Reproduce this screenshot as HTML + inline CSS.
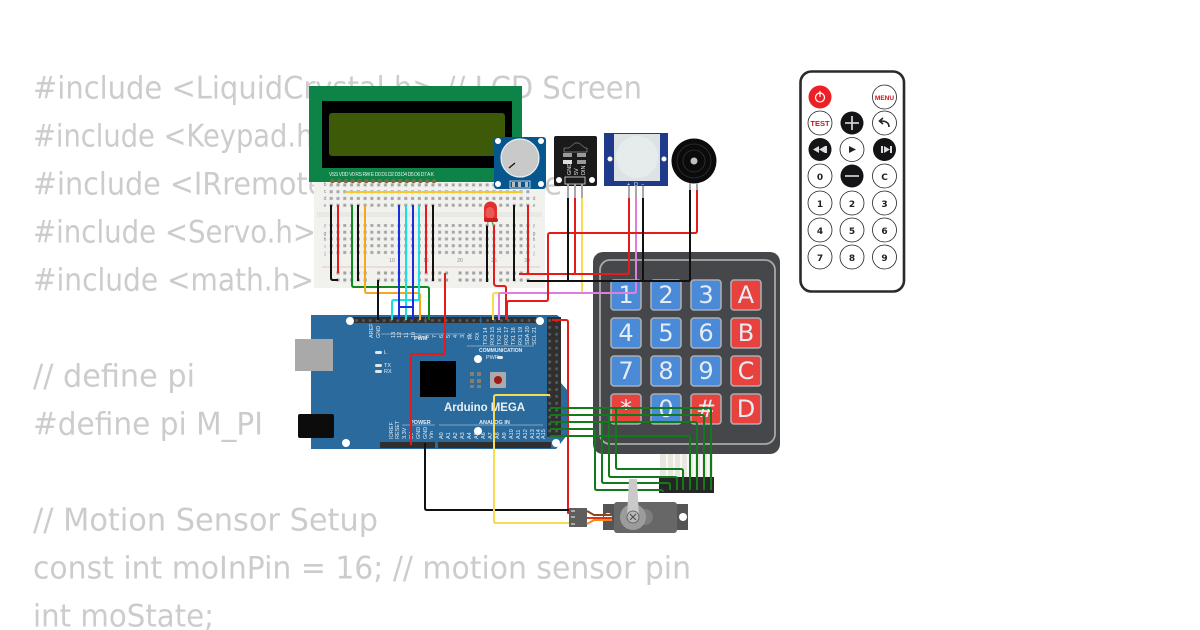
<!DOCTYPE html>
<html>
<head>
<meta charset="utf-8">
<style>
html,body{margin:0;padding:0;background:#fff;width:1200px;height:630px;overflow:hidden}
svg{display:block}
.code text{font-family:"DejaVu Sans",sans-serif;font-size:31px;fill:#ccc}
.w{fill:none;stroke-width:2;stroke-linejoin:round}
.lab{font-family:"Liberation Sans",sans-serif;fill:#e6eef4;font-size:5.5px}
.key{font-family:"DejaVu Sans",sans-serif;font-size:24px;fill:#e4ecf4;text-anchor:middle;font-weight:normal}
.rb{fill:#fff;stroke:#222;stroke-width:.8}
.rt{font-family:"DejaVu Sans",sans-serif;font-weight:bold;font-size:9px;text-anchor:middle;fill:#222}
.bbl{font-family:"Liberation Sans",sans-serif;font-size:5px;fill:#888;text-anchor:middle}
</style>
</head>
<body>
<svg width="1200" height="630" viewBox="0 0 1200 630" xmlns="http://www.w3.org/2000/svg">
<defs>
<pattern id="dots" x="328" width="6.78" height="6.75" patternUnits="userSpaceOnUse" y="175"><rect x="1.7" y="1.7" width="3" height="3" fill="#a6a6a6"/></pattern>
<pattern id="rail" x="328" y="271" width="40.7" height="7" patternUnits="userSpaceOnUse"><rect x="8.5" y="0.5" width="3" height="3" fill="#a0a0a0"/><rect x="15.3" y="0.5" width="3" height="3" fill="#a0a0a0"/><rect x="22.1" y="0.5" width="3" height="3" fill="#a0a0a0"/><rect x="28.9" y="0.5" width="3" height="3" fill="#a0a0a0"/><rect x="35.7" y="0.5" width="3" height="3" fill="#a0a0a0"/></pattern>
<pattern id="hdr" x="353" y="317" width="6.9" height="6.9" patternUnits="userSpaceOnUse"><rect width="6.9" height="6.9" fill="#2f2f2f"/><rect x="2.2" y="2.2" width="2.6" height="2.6" fill="#5c5c5c"/></pattern>
<pattern id="lcdp" x="329" y="177" width="6.77" height="8" patternUnits="userSpaceOnUse"><circle cx="3.4" cy="4" r="2.3" fill="#7d6b43"/></pattern>
</defs>

<g class="code">
<text x="33" y="98.500" textLength="609" lengthAdjust="spacingAndGlyphs">#include &lt;LiquidCrystal.h&gt; // LCD Screen</text>
<text x="33" y="146.500" textLength="440" lengthAdjust="spacingAndGlyphs">#include &lt;Keypad.h&gt; // Keypad</text>
<text x="33" y="194.500" textLength="529" lengthAdjust="spacingAndGlyphs">#include &lt;IRremote.h&gt; // IR Remote</text>
<text x="33" y="242.500" textLength="283" lengthAdjust="spacingAndGlyphs">#include &lt;Servo.h&gt;</text>
<text x="33" y="290.500" textLength="281" lengthAdjust="spacingAndGlyphs">#include &lt;math.h&gt;</text>
<text x="33" y="386.500" textLength="162" lengthAdjust="spacingAndGlyphs">// define pi</text>
<text x="33" y="434.500" textLength="230" lengthAdjust="spacingAndGlyphs">#define pi M_PI</text>
<text x="33" y="530.500" textLength="345" lengthAdjust="spacingAndGlyphs">// Motion Sensor Setup</text>
<text x="33" y="578.500" textLength="658" lengthAdjust="spacingAndGlyphs">const int moInPin = 16; // motion sensor pin</text>
<text x="33" y="626.500" textLength="181" lengthAdjust="spacingAndGlyphs">int moState;</text>
</g>

<!-- breadboard -->
<rect x="314" y="182" width="231" height="106" fill="#f1f1ee"/>
<rect x="317" y="212" width="225" height="5" fill="#e8e8e4"/>
<line x1="322" y1="267" x2="540" y2="267" stroke="#e5b9b6" stroke-width=".7"/>
<rect x="328" y="181" width="203" height="27" fill="url(#dots)"/>
<rect x="328" y="224" width="203" height="33" fill="url(#dots)"/>
<rect x="328" y="271" width="203" height="4" fill="url(#rail)"/>
<rect x="328" y="278" width="203" height="4" fill="url(#rail)"/>
<g class="bbl"><text x="392" y="262">10</text><text x="426" y="262">15</text><text x="460" y="262">20</text><text x="494" y="262">25</text><text x="527" y="262">30</text><text x="358" y="262">5</text>
<text x="325" y="186">b</text><text x="325" y="193">c</text><text x="325" y="200">d</text><text x="325" y="207">e</text><text x="534" y="200">d</text><text x="534" y="207">e</text><text x="325" y="228">f</text><text x="325" y="235">g</text><text x="325" y="241">h</text><text x="325" y="248">i</text><text x="325" y="255">j</text><text x="534" y="228">f</text><text x="534" y="235">g</text><text x="534" y="241">h</text><text x="534" y="248">i</text><text x="534" y="255">j</text></g>

<!-- LCD -->
<rect x="309" y="86" width="213" height="96" fill="#0d8347"/>
<rect x="322" y="101" width="190" height="67" fill="#000"/>
<rect x="329" y="113" width="176" height="43" rx="3" fill="#3c5a08"/>
<rect x="329" y="177" width="108" height="8" fill="url(#lcdp)"/>
<text x="329" y="176" font-family="Liberation Sans,sans-serif" font-size="5px" fill="#e8f2ec" textLength="105">VSS VDD V0 RS RW E D0 D1 D2 D3 D4 D5 D6 D7 A K</text>
<!-- Arduino -->
<path d="M311 315H557L561 318V383L568 391V434L556 449H311Z" fill="#2a6a9c"/>
<rect x="295" y="339" width="38" height="32" fill="#a9a9a9"/>
<rect x="298" y="414" width="36" height="24" rx="2" fill="#0c0c0c"/>
<rect x="353" y="317" width="72" height="6" fill="url(#hdr)"/>
<rect x="426" y="317" width="54" height="6" fill="url(#hdr)"/>
<rect x="481" y="317" width="55" height="6" fill="url(#hdr)"/>
<rect x="547" y="317" width="14" height="120" fill="url(#hdr)"/>
<rect x="380" y="442" width="55" height="6" fill="#2f2f2f"/>
<rect x="438" y="442" width="113" height="6" fill="#2f2f2f"/>
<g fill="#fff"><circle cx="350" cy="321" r="4"/><circle cx="540" cy="321" r="4"/><circle cx="478" cy="359" r="4"/><circle cx="346" cy="443" r="4"/><circle cx="556" cy="443" r="4"/><circle cx="478" cy="431" r="4"/></g>
<rect x="420" y="361" width="36" height="36" fill="#000"/>
<rect x="490" y="372" width="16" height="16" rx="1" fill="#aaa"/>
<circle cx="498" cy="380" r="4" fill="#a01a1a"/>
<g fill="#8b7d6e"><rect x="470" y="372" width="4" height="4"/><rect x="477" y="372" width="4" height="4"/><rect x="470" y="379" width="4" height="4"/><rect x="477" y="379" width="4" height="4"/><rect x="470" y="385" width="4" height="3"/><rect x="477" y="385" width="4" height="3"/></g>
<g fill="#dfe8ee"><rect x="375" y="351" width="7" height="3" rx="1.5"/><rect x="375" y="364" width="7" height="3" rx="1.5"/><rect x="375" y="370" width="7" height="3" rx="1.5"/><rect x="497" y="356" width="6" height="3" rx="1.5"/></g>
<text x="444" y="411" font-family="Liberation Sans,sans-serif" font-weight="bold" font-size="11.5px" fill="#e9f0f4" textLength="81">Arduino MEGA</text>
<g class="lab"><text x="384" y="354">L</text><text x="384" y="367">TX</text><text x="384" y="373">RX</text><text x="486" y="359">PWR</text>
<text x="414" y="340" font-weight="bold">PWM</text>
<text x="479" y="352" font-weight="bold" font-size="5">COMMUNICATION</text>
<text x="410" y="424" font-weight="bold">POWER</text>
<text x="479" y="424" font-weight="bold">ANALOG IN</text></g>
<line x1="381" y1="334" x2="465" y2="334" stroke="#cfe0ea" stroke-width=".6"/>
<line x1="467" y1="346" x2="534" y2="346" stroke="#cfe0ea" stroke-width=".6"/>
<line x1="402" y1="425" x2="435" y2="425" stroke="#cfe0ea" stroke-width=".6"/>
<line x1="439" y1="425" x2="543" y2="425" stroke="#cfe0ea" stroke-width=".6"/>
<g class="lab" font-size="5px">
<text transform="translate(373,338) rotate(-90)">AREF</text><text transform="translate(380,338) rotate(-90)">GND</text><text transform="translate(395,338) rotate(-90)">13</text><text transform="translate(401,338) rotate(-90)">12</text><text transform="translate(408,338) rotate(-90)">11</text><text transform="translate(415,338) rotate(-90)">10</text><text transform="translate(422,338) rotate(-90)">9</text><text transform="translate(429,338) rotate(-90)">8</text>
<text transform="translate(436,338) rotate(-90)">7</text><text transform="translate(443,338) rotate(-90)">6</text><text transform="translate(450,338) rotate(-90)">5</text><text transform="translate(457,338) rotate(-90)">4</text><text transform="translate(464,338) rotate(-90)">3</text><text transform="translate(471,338) rotate(-90)">2</text>
<text transform="translate(472,340) rotate(-90)">TX</text><text transform="translate(479,340) rotate(-90)">RX</text><text transform="translate(487,345) rotate(-90)">TX3 14</text><text transform="translate(494,345) rotate(-90)">RX3 15</text><text transform="translate(501,345) rotate(-90)">TX2 16</text><text transform="translate(508,345) rotate(-90)">RX2 17</text><text transform="translate(515,345) rotate(-90)">TX1 18</text><text transform="translate(522,345) rotate(-90)">RX1 19</text><text transform="translate(529,345) rotate(-90)">SDA 20</text><text transform="translate(536,345) rotate(-90)">SCL 21</text>
<text transform="translate(393,439) rotate(-90)">IOREF</text><text transform="translate(399,439) rotate(-90)">RESET</text><text transform="translate(406,439) rotate(-90)">3.3V</text><text transform="translate(413,439) rotate(-90)">5V</text><text transform="translate(420,439) rotate(-90)">GND</text><text transform="translate(427,439) rotate(-90)">GND</text><text transform="translate(433,439) rotate(-90)">Vin</text>
<text transform="translate(443,439) rotate(-90)">A0</text><text transform="translate(450,439) rotate(-90)">A1</text><text transform="translate(457,439) rotate(-90)">A2</text><text transform="translate(464,439) rotate(-90)">A3</text><text transform="translate(471,439) rotate(-90)">A4</text><text transform="translate(478,439) rotate(-90)">A5</text><text transform="translate(485,439) rotate(-90)">A6</text><text transform="translate(492,439) rotate(-90)">A7</text><text transform="translate(499,439) rotate(-90)">A8</text><text transform="translate(506,439) rotate(-90)">A9</text><text transform="translate(513,439) rotate(-90)">A10</text><text transform="translate(520,439) rotate(-90)">A11</text><text transform="translate(527,439) rotate(-90)">A12</text><text transform="translate(534,439) rotate(-90)">A13</text><text transform="translate(540,439) rotate(-90)">A14</text><text transform="translate(545,439) rotate(-90)">A15</text>
</g>

<!-- keypad -->
<rect x="593" y="252" width="187" height="202" rx="10" fill="#45474a"/>
<rect x="600" y="260" width="175" height="184" rx="10" fill="none" stroke="#a8a8a8" stroke-width="1.8"/>
<g stroke="#a9aeb3" stroke-width="1.6">
<g fill="#4a8ad6"><rect x="611" y="280" width="30" height="30" rx="3"/><rect x="651" y="280" width="30" height="30" rx="3"/><rect x="691" y="280" width="30" height="30" rx="3"/><rect x="611" y="318" width="30" height="30" rx="3"/><rect x="651" y="318" width="30" height="30" rx="3"/><rect x="691" y="318" width="30" height="30" rx="3"/><rect x="611" y="356" width="30" height="30" rx="3"/><rect x="651" y="356" width="30" height="30" rx="3"/><rect x="691" y="356" width="30" height="30" rx="3"/><rect x="651" y="394" width="30" height="30" rx="3"/></g>
<g fill="#e8423f"><rect x="731" y="280" width="30" height="30" rx="3"/><rect x="731" y="318" width="30" height="30" rx="3"/><rect x="731" y="356" width="30" height="30" rx="3"/><rect x="731" y="394" width="30" height="30" rx="3"/><rect x="611" y="394" width="30" height="30" rx="3"/><rect x="691" y="394" width="30" height="30" rx="3"/></g>
</g>
<g class="key">
<text x="626" y="303">1</text><text x="666" y="303">2</text><text x="706" y="303">3</text><text x="746" y="303">A</text>
<text x="626" y="341">4</text><text x="666" y="341">5</text><text x="706" y="341">6</text><text x="746" y="341">B</text>
<text x="626" y="379">7</text><text x="666" y="379">8</text><text x="706" y="379">9</text><text x="746" y="379">C</text>
<text x="626" y="417">*</text><text x="666" y="417">0</text><text x="706" y="417">#</text><text x="746" y="417">D</text>
</g>
<rect x="660" y="454" width="53" height="24" fill="#e9e7df"/>
<g stroke="#fff" stroke-width="1.4"><line x1="667" y1="454" x2="667" y2="477"/><line x1="674" y1="454" x2="674" y2="477"/><line x1="681" y1="454" x2="681" y2="477"/><line x1="688" y1="454" x2="688" y2="477"/><line x1="694" y1="454" x2="694" y2="477"/><line x1="701" y1="454" x2="701" y2="477"/><line x1="708" y1="454" x2="708" y2="477"/></g>
<rect x="659" y="477" width="55" height="16" fill="#262626"/>

<!-- rotary -->
<rect x="494" y="137" width="52" height="52" rx="3" fill="#07578f"/>
<g fill="#fff"><circle cx="498" cy="141" r="3"/><circle cx="541" cy="141" r="3"/><circle cx="498" cy="184" r="3"/><circle cx="541" cy="184" r="3"/></g>
<circle cx="520" cy="158" r="19" fill="#c9c9c9" stroke="#e8eef2" stroke-width="1.2"/>
<line x1="509" y1="168" x2="515" y2="163" stroke="#111" stroke-width="1.2"/>
<rect x="510" y="181" width="20" height="7" fill="none" stroke="#dfe9ef" stroke-width=".8"/>
<g fill="#bbb"><rect x="512" y="182" width="3" height="5"/><rect x="518" y="182" width="3" height="5"/><rect x="525" y="182" width="3" height="5"/></g>

<!-- IR receiver -->
<rect x="554" y="136" width="43" height="50" rx="2" fill="#1a1a1a"/>
<g fill="#fff"><circle cx="559" cy="180" r="3"/><circle cx="592" cy="180" r="3"/></g>
<path d="M564 148H569L575 143H579L585 148H587V152H564Z" fill="none" stroke="#bbb" stroke-width=".5"/>
<g fill="#9a9a9a"><rect x="563" y="153" width="9" height="4"/><rect x="577" y="153" width="9" height="4"/><rect x="577" y="160" width="9" height="4"/></g><rect x="563" y="160" width="9" height="4" fill="#ddd"/>
<rect x="565" y="177" width="20" height="7" fill="none" stroke="#ddd" stroke-width=".8"/>
<g class="lab" font-size="4px" fill="#ccc"><text transform="translate(571,175) rotate(-90)">GND</text><text transform="translate(578,175) rotate(-90)">5V</text><text transform="translate(585,175) rotate(-90)">DIN</text></g>

<!-- PIR -->
<rect x="604" y="133" width="64" height="53" fill="#1f3a8a"/>
<rect x="614" y="134" width="46" height="47" fill="#dde3e4"/>
<circle cx="637" cy="157" r="21" fill="#e6ecec"/>
<circle cx="610" cy="159" r="2.5" fill="#fff"/><circle cx="664" cy="159" r="2.5" fill="#fff"/>
<g class="lab" font-size="5px"><text x="627" y="186">+</text><text x="634" y="186">D</text><text x="641" y="186">−</text></g>

<!-- buzzer -->
<circle cx="694" cy="161" r="22.5" fill="#0b0b0b"/>
<circle cx="694" cy="161" r="17" fill="none" stroke="#333" stroke-width=".8"/>
<circle cx="694" cy="161" r="11" fill="none" stroke="#333" stroke-width=".8"/>
<circle cx="694" cy="161" r="3.5" fill="#c0c0c0"/>

<!-- pin stubs -->
<g stroke="#a8a8a8" stroke-width="2"><line x1="568" y1="184" x2="568" y2="198"/><line x1="575" y1="184" x2="575" y2="198"/><line x1="582" y1="184" x2="582" y2="198"/><line x1="629" y1="186" x2="629" y2="198"/><line x1="636" y1="186" x2="636" y2="198"/><line x1="643" y1="186" x2="643" y2="198"/><line x1="690" y1="183" x2="690" y2="191"/><line x1="697" y1="183" x2="697" y2="191"/></g>

<!-- breadboard wires -->
<g class="w">
<path stroke="#f5cb2c" d="M345 192H522"/>
<path stroke="#111" d="M331 205V278Q331 280 333 280H338"/>
<path stroke="#e31b1b" d="M338 205V273"/>
<path stroke="#0f8a1e" d="M352 205V285Q352 287 354 287H427Q429 287 429 289V320"/>
<path stroke="#111" d="M358 205V281"/>
<path stroke="#f5a81c" d="M365 205V291Q365 293 367 293H418Q420 293 420 295V320"/>
<path stroke="#111" d="M378 280V320"/>
<path stroke="#19e0e0" d="M406 205V300H394Q392 300 392 302V320"/>
<path stroke="#19e0e0" d="M419 205V300H406V320"/>
<path stroke="#1a2de0" d="M399 205V320"/>
<path stroke="#1a2de0" d="M413 205V320"/>
<path stroke="#1a2de0" d="M399 307H413"/>
<path stroke="#e31b1b" d="M426 205V273"/>
<path stroke="#111" d="M433 205V281"/>
<path stroke="#e31b1b" d="M445 273V352Q445 354 443 354H413Q411 354 411 356V445"/>
<path stroke="#111" d="M487 225V282"/>
<path stroke="#e31b1b" d="M494 225V283Q494 286 497 286H504Q506 286 506 288V320"/>
<path stroke="#111" d="M514 205V281"/>
<path stroke="#e31b1b" d="M528 205V273"/>
<!-- sensor wires -->
<path stroke="#f5dc50" d="M582 198V293H495Q493 293 493 295V320"/>
<path stroke="#e07ee0" d="M636 198V291Q636 293 634 293H501Q499 293 499 295V320"/>
<path stroke="#e31b1b" d="M697 190V231Q697 233 695 233H550Q548 233 548 235V299Q548 301 546 301H509Q507 301 507 303V320"/>
<path stroke="#e31b1b" d="M519 274H627Q629 274 629 272V198"/>
<path stroke="#e31b1b" d="M575 198V272Q575 274 573 274H527"/>
<path stroke="#111" d="M527 281H688Q690 281 690 279V190"/>
<path stroke="#111" d="M568 198V281"/>
<path stroke="#111" d="M643 198V281"/>
<!-- servo wires -->
<path stroke="#e31b1b" d="M552 320H566Q568 320 568 322V513H570"/>
<path stroke="#111" d="M425 443V508Q425 510 427 510H570"/>
<path stroke="#f5dc50" d="M550 395H496Q494 395 494 397V521Q494 523 496 523H570"/>
<!-- keypad wires -->
<g stroke="#127a1a">
<path d="M550 408H709Q711 408 711 410V490"/>
<path d="M550 415H702Q704 415 704 417V490"/>
<path d="M550 422H695Q697 422 697 424V490"/>
<path d="M550 436H688Q690 436 690 438V490"/>
<path d="M550 408H614Q616 408 616 410V467Q616 469 618 469H681Q683 469 683 471V490"/>
<path d="M550 415H607Q609 415 609 417V475Q609 477 611 477H675Q677 477 677 479V490"/>
<path d="M550 422H600Q602 422 602 424V481Q602 483 604 483H668Q670 483 670 485V490"/>
<path d="M550 429H593Q595 429 595 431V488Q595 490 597 490H661Q663 490 663 492"/>
</g>
</g>

<!-- LED -->
<path d="M484 221V208A6.500 6.500 0 0 1 497 208V221Z" fill="#e2302e"/>
<ellipse cx="490" cy="213" rx="4.500" ry="6" fill="#ea5a55"/>
<rect x="484" y="218" width="14" height="4" rx="2" fill="#c91f1f"/>
<line x1="488" y1="222" x2="487" y2="226" stroke="#9b9b9b" stroke-width="1.4"/>
<line x1="492" y1="222" x2="494" y2="226" stroke="#6fa24a" stroke-width="1.4"/>

<!-- servo -->
<rect x="603" y="504" width="85" height="26" fill="#555"/>
<circle cx="608" cy="517" r="4" fill="#fff"/><circle cx="683" cy="517" r="4" fill="#fff"/>
<rect x="614" y="502" width="63" height="31" rx="3" fill="#676767"/>
<circle cx="645" cy="517" r="8" fill="#7d7d7d"/>
<circle cx="633" cy="517" r="13" fill="#9c9c9c"/>
<path d="M627 517L629 479H637L639 517Z" fill="#c9c9c9"/>
<circle cx="633" cy="517" r="6" fill="#b8b8b8" stroke="#555" stroke-width=".8"/>
<path d="M630 514L636 520M636 514L630 520" stroke="#444" stroke-width=".9"/>
<rect x="569" y="508" width="18" height="19" fill="#5e5e5e"/>
<g fill="#aaa"><rect x="571" y="510" width="4" height="2"/><rect x="571" y="516" width="4" height="2"/><rect x="571" y="523" width="4" height="2"/></g>
<g fill="none" stroke-width="2"><path stroke="#8c4a1c" d="M587 511L594 515H612"/><path stroke="#e63312" d="M587 518H612"/><path stroke="#f28a1c" d="M587 524L594 520H612"/></g>

<!-- remote -->
<rect x="800.500" y="71.500" width="103.500" height="220" rx="11" fill="#fff" stroke="#2a2a2a" stroke-width="2.600"/>
<circle cx="820" cy="97" r="11.500" fill="#ec2027"/>
<circle cx="820" cy="97.500" r="4.500" fill="none" stroke="#fff" stroke-width="1.200"/>
<line x1="820" y1="91" x2="820" y2="97" stroke="#fff" stroke-width="1.200"/>
<g class="rb">
<circle cx="884.500" cy="97" r="12"/><circle cx="820" cy="123" r="12"/><circle cx="884.500" cy="123" r="12"/><circle cx="852" cy="149.500" r="12"/><circle cx="820" cy="176" r="12"/><circle cx="884.500" cy="176" r="12"/><circle cx="820" cy="203" r="12"/><circle cx="852" cy="203" r="12"/><circle cx="884.500" cy="203" r="12"/><circle cx="820" cy="230" r="12"/><circle cx="852" cy="230" r="12"/><circle cx="884.500" cy="230" r="12"/><circle cx="820" cy="257" r="12"/><circle cx="852" cy="257" r="12"/><circle cx="884.500" cy="257" r="12"/>
</g>
<g fill="#141417"><circle cx="852" cy="123" r="11.500"/><circle cx="820" cy="149.500" r="11.500"/><circle cx="884.500" cy="149.500" r="11.500"/><circle cx="852" cy="176" r="11.500"/></g>
<path d="M845 123H859M852 116V130M845 176H859" stroke="#ccc" stroke-width="1.800"/>
<path d="M813 149.500L819 146V153ZM819 149.500L825 146V153Z M825 146H827V153H825Z" fill="#ddd"/>
<path d="M883 146H881V153H883ZM884 146L890 149.500L884 153ZM890 146H892V153H890Z" fill="#ddd"/>
<path d="M849 146V153L856 149.500Z" fill="#222"/>
<path d="M889 127C889 122 885 121 881 121M883 118L879.500 121L883 124" fill="none" stroke="#222" stroke-width="1.600"/>
<g class="rt">
<text x="884.500" y="100" font-size="6.500px" style="fill:#c8141e;font-family:'Liberation Sans',sans-serif">MENU</text>
<text x="820" y="126" font-size="7.500px" style="fill:#c8141e;font-family:'Liberation Sans',sans-serif">TEST</text>
<text x="820" y="180">0</text><text x="884.500" y="180">C</text>
<text x="820" y="207">1</text><text x="852" y="207">2</text><text x="884.500" y="207">3</text>
<text x="820" y="234">4</text><text x="852" y="234">5</text><text x="884.500" y="234">6</text>
<text x="820" y="261">7</text><text x="852" y="261">8</text><text x="884.500" y="261">9</text>
</g>
</svg>
</body>
</html>
